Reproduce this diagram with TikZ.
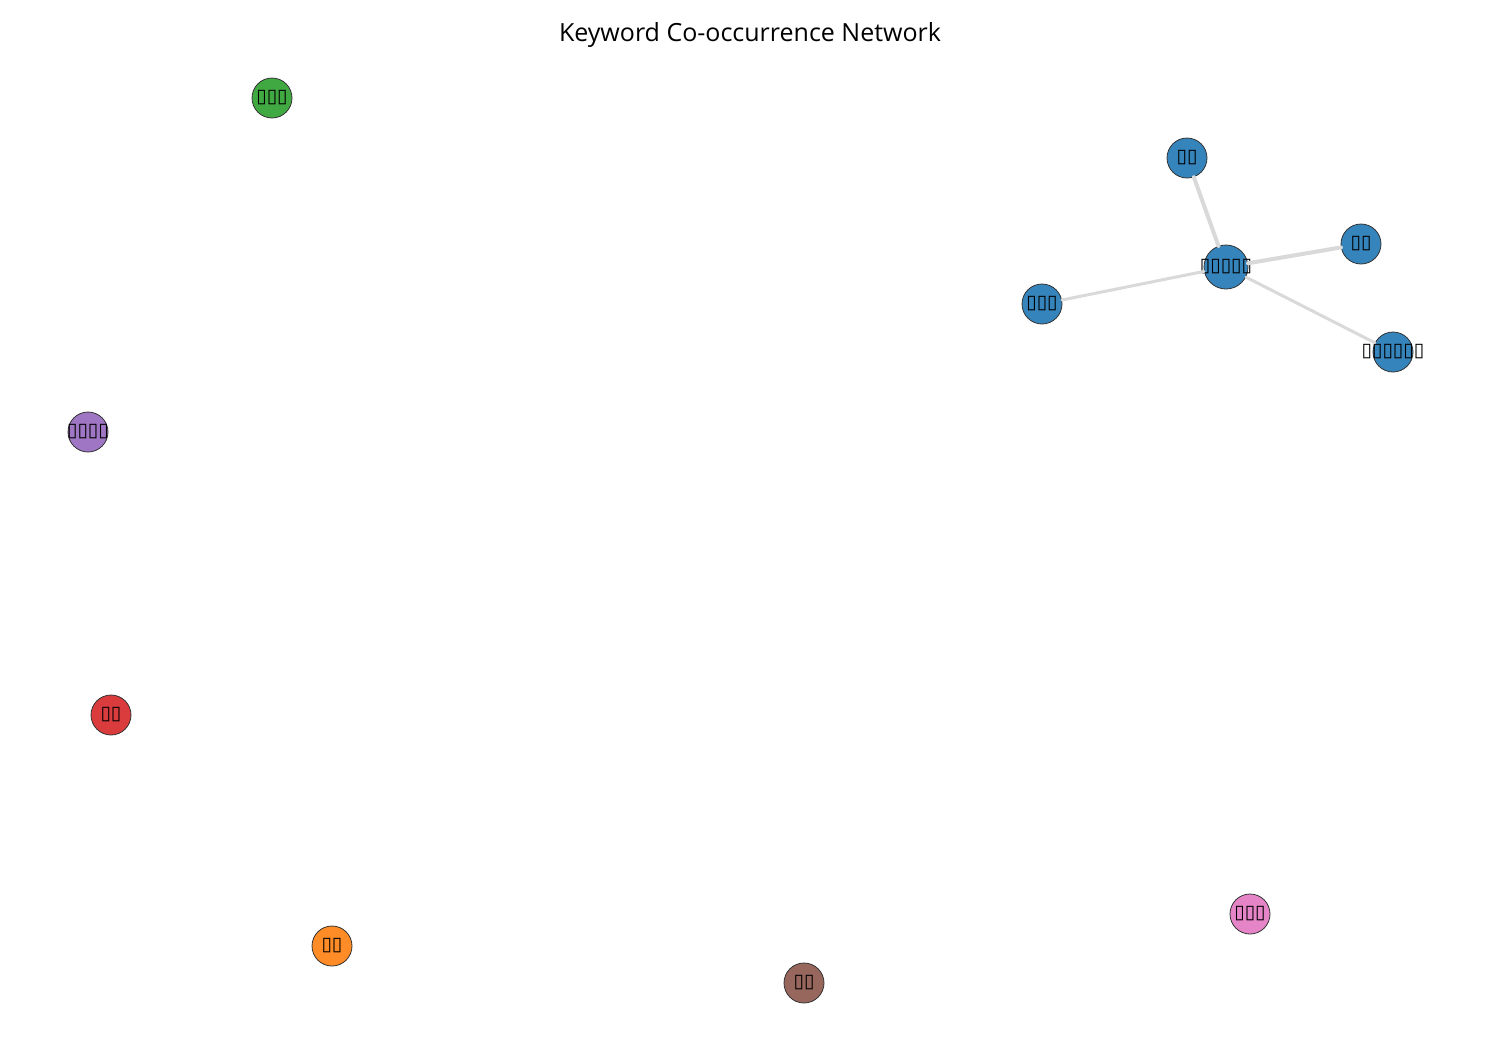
\documentclass[tikz,border=0pt]{standalone}
\usepackage{fontspec}
\setmainfont{Open Sans}
\newfontfamily\boxfont{DejaVu Sans}
\definecolor{kwblue}{RGB}{53,132,187}
\definecolor{kwgreen}{RGB}{65,169,65}
\definecolor{kwpurple}{RGB}{159,118,196}
\definecolor{kwred}{RGB}{218,60,61}
\definecolor{kworange}{RGB}{255,140,38}
\definecolor{kwbrown}{RGB}{151,103,93}
\definecolor{kwpink}{RGB}{230,132,200}
\definecolor{linkgray}{RGB}{217,217,217}

\begin{document}
\begin{tikzpicture}[x=1pt,y=-1pt,
    kwtext/.style={inner sep=0pt,font=\boxfont\fontsize{19}{19}\selectfont},
    kw/.style={circle,draw=black!80,line width=0.8pt,minimum size=40pt,inner sep=0pt,
      label={[kwtext]center:#1}},
    link/.style={draw=linkgray,line cap=round}]
      \useasboundingbox (0,0) rectangle (1500,1050);
      % Titel
      \node[font=\fontsize{25}{25}\selectfont] (title) at (750,35) {Keyword Co-occurrence Network};
      % Kluster
      \node[kw=▯▯▯▯▯,fill=kwblue,minimum size=44pt] (hub) at (1226,267) {};
      \node[kw=▯▯,fill=kwblue] (top) at (1187,158) {};
      \node[kw=▯▯,fill=kwblue] (right) at (1361,244) {};
      \node[kw=▯▯▯,fill=kwblue] (left) at (1042,304) {};
      \node[kw=▯▯▯▯▯▯,fill=kwblue] (low) at (1393,352) {};
      % Kanter
      \draw[link,line width=4pt] (hub) -- (top);
      \draw[link,line width=4pt] (hub) -- (right);
      \draw[link,line width=3pt] (hub) -- (left);
      \draw[link,line width=3pt] (hub) -- (low);
      % Ensamma noder
      \node[kw=▯▯▯,fill=kwgreen] (green) at (272,98) {};
      \node[kw=▯▯▯▯,fill=kwpurple] (purple) at (88,432) {};
      \node[kw=▯▯,fill=kwred] (red) at (111,715) {};
      \node[kw=▯▯,fill=kworange] (orange) at (332,946) {};
      \node[kw=▯▯,fill=kwbrown] (brown) at (804,983) {};
      \node[kw=▯▯▯,fill=kwpink] (pink) at (1250,914) {};
    \end{tikzpicture}
\end{document}
